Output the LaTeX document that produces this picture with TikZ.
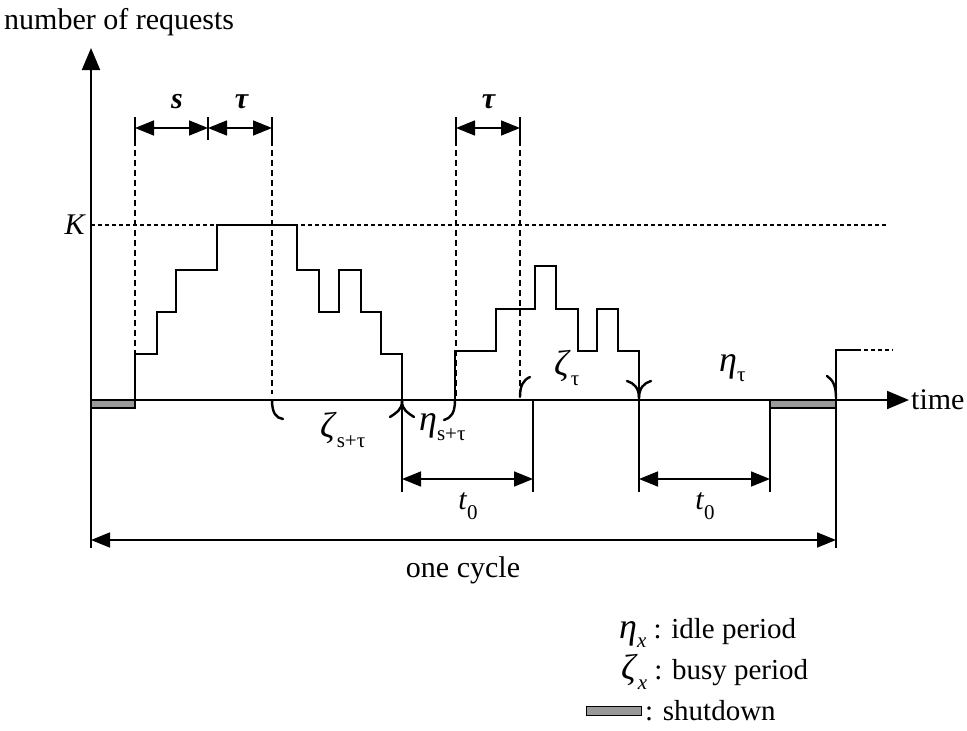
\documentclass[tikz,border=0pt]{standalone}
\usepackage{fontspec}
\setmainfont{Liberation Serif}
\usetikzlibrary{arrows.meta}
\newcommand{\lsub}[1]{\raisebox{-0.32em}{\fontsize{21}{23}\selectfont #1}}
\newcommand{\grk}[1]{{\fontsize{36}{38}\selectfont\textit{#1}}}
\begin{document}
\begin{tikzpicture}[x=1pt,y=-1pt,
  axisline/.style={line width=2pt},
  stepcurve/.style={line width=2pt,line join=miter},
  guide/.style={line width=1.6pt,dash pattern=on 6pt off 4pt},
  kline/.style={line width=1.1pt,dash pattern=on 4pt off 3pt},
  dimarrow/.style={line width=1.6pt,{Triangle[length=19pt,width=15pt]}-{Triangle[length=19pt,width=15pt]}},
  tickline/.style={line width=1.6pt},
  pmark/.style={line width=2.4pt,line cap=round},
  shut/.style={draw=black,line width=1.4pt,fill=black!40},
  lbl/.style={inner sep=0pt,font=\fontsize{30}{34}\selectfont},
  leglbl/.style={inner sep=0pt,font=\fontsize{29}{34}\selectfont},
]
\useasboundingbox (0,0) rectangle (967,731);
\coordinate (O) at (91,400);
\coordinate (Ytop) at (91,48);
\coordinate (Ybot) at (91,548);
\coordinate (Tend) at (909,400);
% axes
\draw[axisline,-{Triangle[length=22pt,width=18pt]}] (Ybot) -- (Ytop);
\draw[axisline,-{Triangle[length=22pt,width=18pt]}] (O) -- (Tend);
\node[lbl,anchor=west] (timelbl) at (911,400) {time};
\node[lbl,anchor=west] (ylab) at (4,22) {number of requests};
% K level
\draw[kline] (91,225) -- (886,225);
\node[lbl,anchor=east] (Klbl) at (86,225) {\textit{K}};
% shutdown blocks
\draw[shut] (91,400) rectangle (135,408);
\draw[shut] (770,400) rectangle (836,408);
% first busy period
\draw[stepcurve] (135,400) -- (135,354) -- (157,354) -- (157,312) -- (176,312) -- (176,270) -- (217,270) -- (217,225) -- (297,225) -- (297,270) -- (319,270) -- (319,312) -- (339,312) -- (339,270) -- (361,270) -- (361,312) -- (381,312) -- (381,354) -- (402,354) -- (402,492);
% second busy period
\draw[stepcurve] (455,400) -- (455,351) -- (496,351) -- (496,309) -- (535,309) -- (535,266) -- (556,266) -- (556,309) -- (578,309) -- (578,351) -- (597,351) -- (597,309) -- (618,309) -- (618,351) -- (639,351) -- (639,492);
% third start
\draw[stepcurve] (836,548) -- (836,350) -- (857,350);
\draw[kline,line width=1.6pt] (857,350) -- (893,350);
% other verticals
\draw[stepcurve] (533,400) -- (533,492);
\draw[stepcurve] (770,408) -- (770,492);
% dashed guides
\draw[guide] (135,140) -- (135,400);
\draw[guide] (272,140) -- (272,394);
\draw[guide] (456,140) -- (456,396);
\draw[guide] (520,140) -- (520,392);
% top dimension arrows
\draw[tickline] (135,117) -- (135,140);
\draw[tickline] (208,117) -- (208,140);
\draw[tickline] (272,117) -- (272,140);
\draw[tickline] (456,117) -- (456,140);
\draw[tickline] (520,117) -- (520,140);
\draw[dimarrow] (135,128) -- (208,128);
\draw[dimarrow] (208,128) -- (272,128);
\draw[dimarrow] (456,128) -- (520,128);
\node[lbl] (slbl) at (177,102) {\textbf{\textit{s}}};
\node[lbl] (taua) at (242,102) {\textbf{\textit{τ}}};
\node[lbl] (taub) at (489,102) {\textbf{\textit{τ}}};
% period marks
\draw[pmark] (272,400) .. controls (272,413) and (276,418) .. (283,419);
\draw[pmark] (402,401) .. controls (402,410) and (396,413) .. (390,417);
\draw[pmark] (402,401) .. controls (402,410) and (408,413) .. (414,417);
\draw[pmark] (455,400) .. controls (455,413) and (451,418) .. (444,420);
\draw[pmark] (520,397) .. controls (520,386) and (523,380) .. (530,377);
\draw[pmark] (639,398) .. controls (639,388) and (634,383) .. (627,381);
\draw[pmark] (639,398) .. controls (639,388) and (644,383) .. (651,381);
\draw[pmark] (836,398) .. controls (836,386) and (833,380) .. (827,376);
% period labels
\node[lbl,anchor=west] (za) at (320,430) {\grk{ζ}\lsub{s+τ}};
\node[lbl,anchor=west] (ea) at (419,427) {\grk{η}\lsub{s+τ}};
\node[lbl,anchor=west] (zb) at (554,368) {\grk{ζ}\lsub{τ}};
\node[lbl,anchor=west] (eb) at (719,368) {\grk{η}\lsub{τ}};
% t0 arrows
\draw[dimarrow] (402,479) -- (533,479);
\draw[dimarrow] (639,479) -- (770,479);
\node[lbl] (ta) at (468,506) {\textit{t}\lsub{0}};
\node[lbl] (tb) at (705,506) {\textit{t}\lsub{0}};
% one cycle
\draw[dimarrow] (91,540) -- (836,540);
\node[lbl] (cyc) at (463,570) {one cycle};
% legend
\node[leglbl,anchor=west] (lega) at (619,633) {\grk{η}\lsub{\textit{x}} : idle period};
\node[leglbl,anchor=west] (legb) at (621,672) {\grk{ζ}\lsub{\textit{x}} : busy period};
\draw[shut,line width=1pt] (586,706) rectangle (641,715);
\node[leglbl,anchor=west] (legc) at (645,711) {: shutdown};
\end{tikzpicture}
\end{document}
